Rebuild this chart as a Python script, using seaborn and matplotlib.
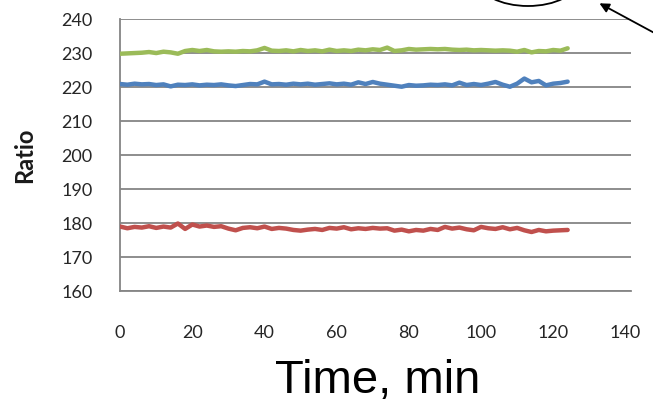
import numpy as np
import pandas as pd
import matplotlib
matplotlib.use("Agg")
import matplotlib.pyplot as plt
from matplotlib.patches import Ellipse, FancyArrowPatch
import seaborn as sns

# time axis, minutes
time_min = list(range(0, 126, 2))

green_ratio = [229.8, 229.9, 230.0, 230.1, 230.3, 230.0, 230.4, 230.2, 229.8, 230.6,
               230.9, 230.6, 230.9, 230.5, 230.4, 230.5, 230.4, 230.6, 230.5, 230.8,
               231.5, 230.7, 230.6, 230.8, 230.5, 230.9, 230.6, 230.8, 230.5, 231.0,
               230.6, 230.8, 230.6, 231.0, 230.8, 231.1, 230.9, 231.6, 230.6, 230.8,
               231.2, 231.0, 231.1, 231.2, 231.1, 231.2, 231.0, 230.9, 231.0, 230.8,
               230.9, 230.8, 230.7, 230.8, 230.7, 230.4, 230.9, 230.2, 230.6, 230.5,
               230.9, 230.7, 231.4]

blue_ratio = [220.9, 220.7, 221.0, 220.8, 220.9, 220.6, 220.8, 220.2, 220.7, 220.6,
              220.8, 220.5, 220.7, 220.6, 220.8, 220.5, 220.3, 220.6, 220.9, 220.8,
              221.6, 220.8, 220.9, 220.7, 221.0, 220.8, 221.0, 220.7, 220.9, 221.1,
              220.8, 221.0, 220.7, 221.4, 220.9, 221.5, 221.0, 220.7, 220.4, 220.1,
              220.6, 220.4, 220.5, 220.7, 220.6, 220.8, 220.5, 221.3, 220.6, 220.9,
              220.6, 221.0, 221.5, 220.7, 220.1, 221.0, 222.5, 221.4, 221.8, 220.5,
              221.0, 221.2, 221.6]

red_ratio = [179.0, 178.5, 178.9, 178.7, 179.1, 178.6, 179.0, 178.7, 179.9, 178.3,
             179.6, 179.0, 179.3, 178.9, 179.1, 178.4, 177.9, 178.6, 178.8, 178.5,
             179.0, 178.3, 178.6, 178.4, 178.0, 177.8, 178.1, 178.3, 178.0, 178.6,
             178.4, 178.8, 178.2, 178.5, 178.3, 178.6, 178.4, 178.5, 177.8, 178.1,
             177.6, 178.0, 177.8, 178.3, 178.0, 178.9, 178.4, 178.7, 178.2, 177.9,
             178.9, 178.5, 178.3, 178.8, 178.2, 178.6, 177.9, 177.4, 178.0, 177.6,
             177.8, 177.9, 178.0]

series_names = ["green", "blue", "red"]
series_colours = ["#9BBB59", "#4F81BD", "#C0504D"]

y_ticks = [160, 170, 180, 190, 200, 210, 220, 230, 240]
x_ticks = [0, 20, 40, 60, 80, 100, 120, 140]

df = pd.DataFrame({
    "time": time_min * 3,
    "ratio": green_ratio + blue_ratio + red_ratio,
    "series": [n for n in series_names for _ in time_min],
})

sns.set_theme(style="white")
plt.rcParams["font.family"] = ["Lato", "DejaVu Sans"]

fig = plt.figure(figsize=(6.53, 4.05), dpi=100)
ax = fig.add_axes([0.184, 0.281, 0.782, 0.672])

sns.lineplot(data=df, x="time", y="ratio", hue="series",
             palette=dict(zip(series_names, series_colours)),
             linewidth=3.2, legend=False, ax=ax, zorder=3)

ax.set_xlim(0, 141.5)
ax.set_ylim(160, 240)
ax.set_xticks(x_ticks)
ax.set_yticks(y_ticks)
ax.yaxis.grid(True, color="#858585", linewidth=1.3)
ax.xaxis.grid(False)
for side in ["top", "right"]:
    ax.spines[side].set_visible(False)
for side in ["left", "bottom"]:
    ax.spines[side].set_color("#858585")
    ax.spines[side].set_linewidth(1.3)

ax.tick_params(axis="y", length=0, pad=20, labelsize=13, labelcolor="#262626")
ax.tick_params(axis="x", length=0, pad=24, labelsize=13, labelcolor="#262626")

ax.set_xlabel("")
ax.set_ylabel("Ratio", fontsize=17, fontweight="bold", color="#1a1a1a")
ax.yaxis.set_label_coords(-0.165, 0.5)

fig.text(0.578, 0.03, "Time, min", fontsize=34, family="Liberation Sans",
         ha="center", va="baseline", color="black")

# annotation ellipse and arrow partly cut by the top edge
fig.add_artist(Ellipse((5.28, 4.25), 1.0, 0.52, fill=False, lw=1.3,
                       color="black", transform=fig.dpi_scale_trans))
fig.add_artist(FancyArrowPatch((6.60, 4.05 - 0.36), (5.97, 4.05 - 0.02),
                               arrowstyle="-|>", mutation_scale=14, lw=1.3,
                               color="black", transform=fig.dpi_scale_trans))

fig.savefig("out.png", dpi=100)
